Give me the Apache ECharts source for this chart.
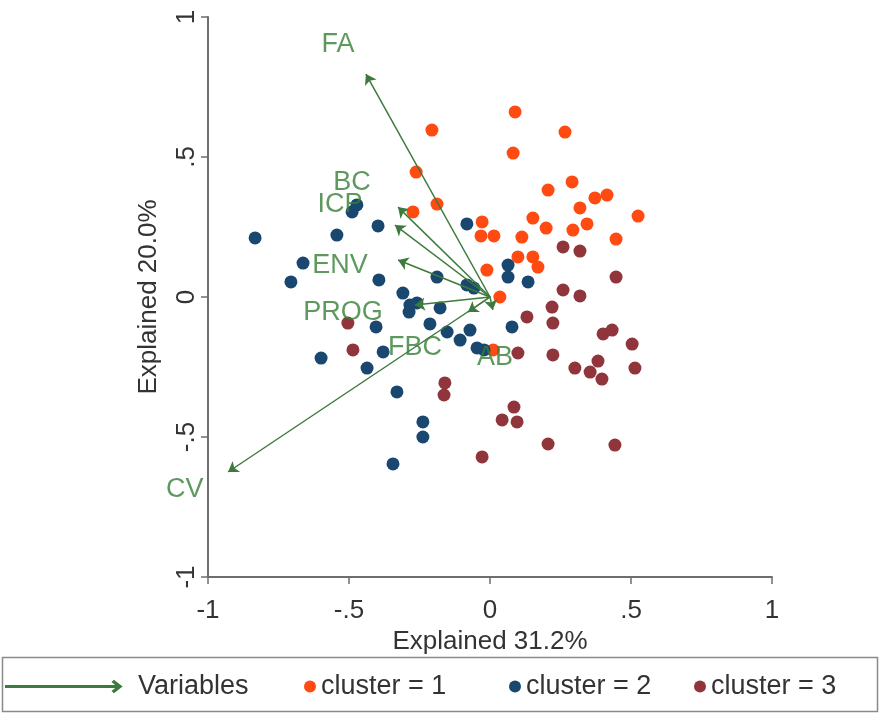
<!DOCTYPE html>
<html><head><meta charset="utf-8">
<script src="https://cdn.jsdelivr.net/npm/echarts@6/dist/echarts.min.js"></script>
<style>html,body{margin:0;padding:0;background:#fff}#c{width:880px;height:715px}</style>
</head><body><div id="c"></div>
<script>
// tick values and their Stata-style labels
const tickValues = [-1, -0.5, 0, 0.5, 1];
const tickText = ['-1', '-.5', '0', '.5', '1'];

// cluster scores (component 1, component 2)
const cluster1 = [
  [0.089,0.661],[-0.206,0.596],[0.266,0.589],[0.082,0.514],[-0.262,0.446],[0.291,0.411],
  [0.206,0.382],[0.372,0.354],[0.415,0.364],[-0.188,0.332],[-0.273,0.304],[0.319,0.318],
  [0.525,0.289],[0.152,0.282],[0.344,0.261],[-0.028,0.268],[0.199,0.246],[0.294,0.239],
  [-0.032,0.218],[0.014,0.218],[0.113,0.214],[0.447,0.207],[0.099,0.143],[0.152,0.143],
  [0.170,0.107],[-0.011,0.096],[0.035,0.0],[0.011,-0.189]
];
const cluster2 = [
  [-0.833,0.211],[-0.472,0.329],[-0.489,0.304],[-0.543,0.221],[-0.397,0.254],[-0.082,0.261],
  [-0.663,0.121],[-0.706,0.054],[-0.394,0.061],[-0.188,0.071],[0.064,0.114],[0.064,0.071],
  [0.135,0.054],[-0.082,0.043],[-0.057,0.032],[-0.309,0.014],[-0.284,-0.029],[-0.259,-0.021],
  [-0.287,-0.054],[-0.177,-0.039],[-0.404,-0.107],[-0.213,-0.096],[-0.152,-0.125],[-0.071,-0.118],
  [-0.106,-0.154],[0.078,-0.107],[-0.379,-0.196],[-0.046,-0.182],[-0.021,-0.189],[-0.599,-0.218],
  [-0.436,-0.254],[-0.330,-0.339],[-0.238,-0.446],[-0.238,-0.500],[-0.344,-0.596]
];
const cluster3 = [
  [-0.504,-0.093],[-0.486,-0.189],[-0.160,-0.307],[-0.163,-0.350],[0.043,-0.439],[0.085,-0.393],
  [0.096,-0.446],[-0.028,-0.571],[0.206,-0.525],[0.443,-0.529],[0.131,-0.071],[0.099,-0.200],
  [0.259,0.179],[0.319,0.164],[0.447,0.071],[0.259,0.025],[0.319,0.004],[0.220,-0.036],
  [0.223,-0.093],[0.401,-0.132],[0.433,-0.118],[0.504,-0.168],[0.223,-0.207],[0.301,-0.254],
  [0.383,-0.229],[0.355,-0.268],[0.397,-0.293],[0.514,-0.254]
];

// variable loadings (arrow tips) and where their names sit
const varNames = ['FA', 'BC', 'ICP', 'ENV', 'PROG', 'FBC', 'AB', 'CV'];
const varTips = [[-0.44,0.796],[-0.326,0.321],[-0.337,0.257],[-0.326,0.132],[-0.266,-0.029],[-0.078,-0.054],[0.010,-0.046],[-0.929,-0.625]];
const varLabelAt = [[-0.539,0.90],[-0.489,0.407],[-0.532,0.329],[-0.532,0.114],[-0.521,-0.054],[-0.266,-0.182],[0.018,-0.218],[-1.082,-0.689]];

const seriesNames = ['Variables', 'cluster = 1', 'cluster = 2', 'cluster = 3'];
const axisTitles = ['Explained 31.2%', 'Explained 20.0%'];

const GREEN = '#357f35';
const LINEGREEN = '#3d7a3d';
const C1 = '#ff4a12', C2 = '#1a476f', C3 = '#90353b';
const FONT = 'Liberation Sans, Arial, sans-serif';
const fmt = v => { const i = tickValues.findIndex(t => Math.abs(t - v) < 1e-9); return i >= 0 ? tickText[i] : ''; };

const arrowIcon = 'path://M0,5.4 L112,5.4 L107,1.5 L108,0.5 L115,6 L108,11.5 L107,10.5 L112,6.6 L0,6.6 Z';

const axisCommon = {
  min: -1, max: 1, interval: 0.5,
  axisLine: { show: true, onZero: false, lineStyle: { color: '#6e6e6e', width: 2 } },
  axisTick: { show: true, length: 7, lineStyle: { color: '#6e6e6e', width: 1.5 } },
  splitLine: { show: false },
  nameLocation: 'middle',
  nameTextStyle: { fontFamily: FONT, fontSize: 26, color: '#333' }
};

const chart = echarts.init(document.getElementById('c'), null, { renderer: 'canvas' });
const legendText = { fontFamily: FONT, fontSize: 27, color: '#333' };
chart.setOption({
  animation: false,
  backgroundColor: '#fff',
  grid: { left: 208, right: 108, top: 17, bottom: 138 },
  xAxis: Object.assign({}, axisCommon, {
    type: 'value', name: axisTitles[0], nameGap: 46,
    axisLabel: { formatter: fmt, margin: 21, fontFamily: FONT, fontSize: 26, color: '#333' }
  }),
  yAxis: Object.assign({}, axisCommon, {
    type: 'value', name: axisTitles[1], nameGap: 46, nameRotate: 90,
    axisLabel: { formatter: fmt, rotate: 90, margin: 8, fontFamily: FONT, fontSize: 26, color: '#333' }
  }),
  graphic: [{ type: 'rect', shape: { x: 2.5, y: 657.5, width: 875, height: 54 }, style: { fill: 'none', stroke: '#8a8a8a', lineWidth: 1.5 }, silent: true }],
  legend: [
    { left: 5, top: 673, padding: 0, itemWidth: 115, itemHeight: 12, textStyle: Object.assign({ padding: [0,0,0,12] }, legendText),
      data: [{ name: seriesNames[0], icon: arrowIcon, itemStyle: { color: LINEGREEN } }] },
    { left: 304, top: 673, padding: 0, itemWidth: 12, itemHeight: 12, textStyle: legendText, data: [{ name: seriesNames[1], icon: 'circle' }] },
    { left: 509, top: 673, padding: 0, itemWidth: 12, itemHeight: 12, textStyle: legendText, data: [{ name: seriesNames[2], icon: 'circle' }] },
    { left: 694, top: 673, padding: 0, itemWidth: 12, itemHeight: 12, textStyle: legendText, data: [{ name: seriesNames[3], icon: 'circle' }] }
  ],
  series: [
    { type: 'scatter', name: seriesNames[1], data: cluster1, symbolSize: 13, itemStyle: { color: C1, opacity: 1 }, z: 2 },
    { type: 'scatter', name: seriesNames[2], data: cluster2, symbolSize: 13, itemStyle: { color: C2, opacity: 1 }, z: 2 },
    { type: 'scatter', name: seriesNames[3], data: cluster3, symbolSize: 13, itemStyle: { color: C3, opacity: 1 }, z: 2 },
    { type: 'lines', name: seriesNames[0], coordinateSystem: 'cartesian2d', z: 4,
      symbol: ['none', 'arrow'], symbolSize: 10,
      lineStyle: { color: LINEGREEN, width: 1.5, opacity: 1, curveness: 0 },
      itemStyle: { color: LINEGREEN },
      data: varTips.map(t => ({ coords: [[0, 0], t] })) },
    { type: 'scatter', name: 'varLabels', clip: false, silent: true, z: 5, symbolSize: 0,
      data: varLabelAt.map((p, i) => ({ value: p, name: varNames[i] })),
      label: { show: true, position: 'inside', formatter: p => p.name, fontFamily: FONT, fontSize: 27, color: GREEN } }
  ]
});
</script></body></html>
